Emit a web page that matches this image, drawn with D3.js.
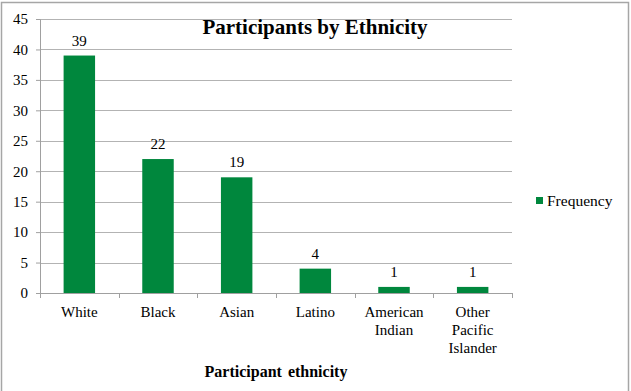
<!DOCTYPE html>
<html>
<head>
<meta charset="utf-8">
<script src="https://cdn.jsdelivr.net/npm/d3@7"></script>
<style>
  body { margin: 0; background: #fff; }
  text { font-family: "Liberation Serif", "Times New Roman", serif; fill: #000; }
</style>
</head>
<body>
<div id="chart"></div>
<script>
var categories = [["White"], ["Black"], ["Asian"], ["Latino"], ["American", "Indian"], ["Other", "Pacific", "Islander"]];
var frequency = [39, 22, 19, 4, 1, 1];
var yTicks = [0, 5, 10, 15, 20, 25, 30, 35, 40, 45];

var W = 631, H = 391;
var margin = { top: 19, right: 119, bottom: 98, left: 40 },
    width = W - margin.left - margin.right,
    height = H - margin.top - margin.bottom;

var svg = d3.select("#chart")
    .append("svg")
    .attr("width", W)
    .attr("height", H);

// chart frame
svg.append("rect")
    .attr("x", 1.5).attr("y", 2.5)
    .attr("width", 627).attr("height", 395)
    .attr("fill", "none")
    .attr("stroke", "#a6a6a6")
    .attr("stroke-width", 1.5);

var g = svg.append("g")
    .attr("transform", "translate(" + margin.left + "," + margin.top + ")");

var keys = categories.map(function (d) { return d.join(" "); });

var x = d3.scaleBand()
    .domain(keys)
    .range([0, width])
    .paddingInner(0.6)
    .paddingOuter(0.3);

var y = d3.scaleLinear()
    .domain([0, 45])
    .range([height, 0]);

// gridlines
g.append("g")
    .selectAll("line")
    .data(yTicks)
    .enter()
    .append("line")
    .attr("x1", 0).attr("x2", width)
    .attr("y1", function (d) { return Math.round(y(d)) + 0.5; })
    .attr("y2", function (d) { return Math.round(y(d)) + 0.5; })
    .attr("stroke", "#b3b3b3")
    .attr("stroke-width", 1);

// y axis
var yAxis = d3.axisLeft(y).tickValues(yTicks).tickSize(4).tickPadding(8);
var yG = g.append("g").call(yAxis).attr("font-family", null);
yG.select(".domain").attr("stroke", "#a0a0a0");
yG.selectAll(".tick line").attr("stroke", "#a0a0a0");
yG.selectAll(".tick text")
    .style("font-family", "'Liberation Serif', serif")
    .style("font-size", "15px")
    .attr("fill", "#000");

// bars
g.selectAll(".bar")
    .data(frequency)
    .enter()
    .append("rect")
    .attr("class", "bar")
    .attr("x", function (d, i) { return x(keys[i]); })
    .attr("y", function (d) { return y(d); })
    .attr("width", x.bandwidth())
    .attr("height", function (d) { return height - y(d); })
    .attr("fill", "#00873d");

// value labels
g.selectAll(".val")
    .data(frequency)
    .enter()
    .append("text")
    .attr("class", "val")
    .attr("x", function (d, i) { return x(keys[i]) + x.bandwidth() / 2; })
    .attr("y", function (d) { return y(d) - 10; })
    .attr("text-anchor", "middle")
    .style("font-size", "15px")
    .text(function (d) { return d; });

// x axis line + ticks at category boundaries
g.append("line")
    .attr("x1", 0).attr("x2", width)
    .attr("y1", height + 0.5).attr("y2", height + 0.5)
    .attr("stroke", "#a0a0a0");
var step = width / keys.length;
g.selectAll(".xtick")
    .data(d3.range(keys.length + 1))
    .enter()
    .append("line")
    .attr("x1", function (d) { return Math.round(d * step) + 0.5; })
    .attr("x2", function (d) { return Math.round(d * step) + 0.5; })
    .attr("y1", height).attr("y2", height + 5)
    .attr("stroke", "#a0a0a0");

// category labels
var xl = g.selectAll(".xlab")
    .data(categories)
    .enter()
    .append("text")
    .attr("class", "xlab")
    .attr("text-anchor", "middle")
    .attr("transform", function (d, i) {
        return "translate(" + (x(keys[i]) + x.bandwidth() / 2) + "," + (height + 24) + ")";
    })
    .style("font-size", "15px");
xl.selectAll("tspan")
    .data(function (d) { return d; })
    .enter()
    .append("tspan")
    .attr("x", 0)
    .attr("dy", function (d, i) { return i === 0 ? 0 : 18; })
    .text(function (d) { return d; });

// title
svg.append("text")
    .attr("x", 315).attr("y", 34)
    .attr("text-anchor", "middle")
    .style("font-size", "21px")
    .style("font-weight", "bold")
    .text("Participants by Ethnicity");

// x axis title
svg.append("text")
    .attr("x", 276).attr("y", 377)
    .attr("text-anchor", "middle")
    .style("font-size", "16px")
    .style("font-weight", "bold")
    .style("word-spacing", "2px")
    .text("Participant ethnicity");

// legend
var legend = svg.append("g").attr("transform", "translate(536,197)");
legend.append("rect")
    .attr("width", 7).attr("height", 7)
    .attr("fill", "#00873d");
legend.append("text")
    .attr("x", 11).attr("y", 8.5)
    .style("font-size", "15.5px")
    .text("Frequency");
</script>
</body>
</html>
